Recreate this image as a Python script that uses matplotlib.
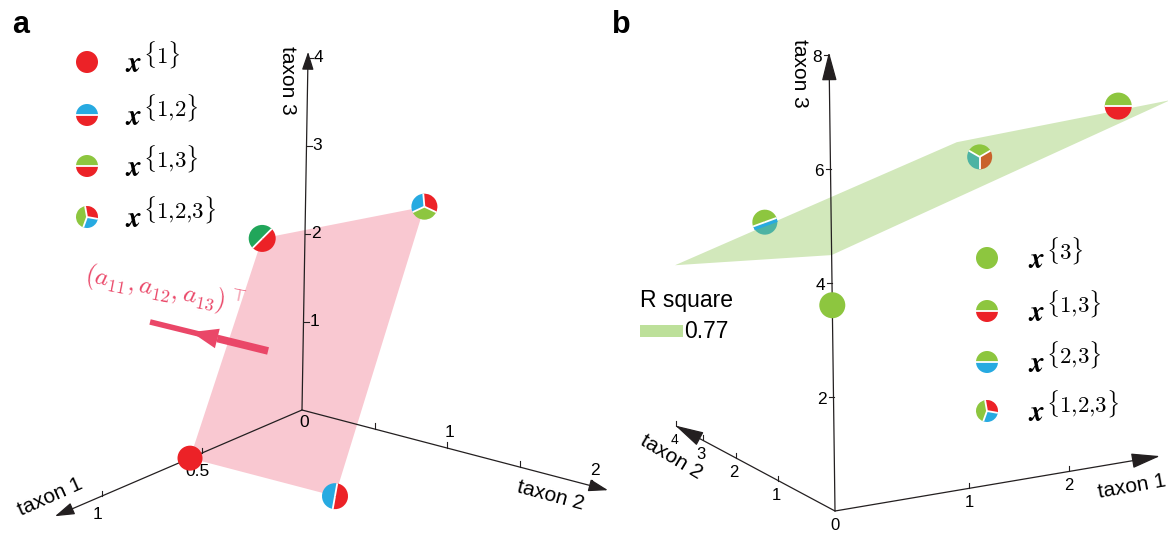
import numpy as np
import matplotlib
matplotlib.use('Agg')
import matplotlib.pyplot as plt
from matplotlib.patches import Wedge, Polygon, Rectangle, FancyArrowPatch, Circle

plt.rcParams['font.family'] = ['Liberation Sans', 'DejaVu Sans']
plt.rcParams['mathtext.fontset'] = 'cm'

# Colours
RED = '#ec2227'
BLUE = '#27aae1'
GREEN = '#8dc63f'
DKGREEN = '#21a65a'
TEAL = '#4db3a3'
ORANGE = '#c9622b'
AXIS = '#231f20'
PINK_PLANE = '#f9c8d1'
GREEN_PLANE = '#d2e8bb'
PINK = '#ea4768'

# ---------------- data (taxon coordinates) ----------------
# panel a : communities and the plane through them
a_labels = [r'\{1\}', r'\{1{,}2\}', r'\{1{,}3\}', r'\{1{,}2{,}3\}']
a_t1 = [0.56, 0.56, 0.56, 0.56]
a_t2 = [0.0, 1.0, 0.47, 1.58]
a_t3 = [0.0, 0.0, 2.7, 3.54]
a_plane_order = [0, 1, 3, 2]
a_normal_tail = [0.176, 0.0, 0.843]
a_normal_tip = [0.773, 0.0, 1.756]

a_ticks1 = [0.5, 1]
a_ticklab1 = ['0.5', '1']
a_ticks2 = [0.5, 1, 1.5, 2]
a_ticklab2 = ['', '1', '', '2']
a_ticks3 = [1, 2, 3, 4]
a_axis_end = [1.235, 2.11, 4.07]

# panel b
b_labels = [r'\{3\}', r'\{1{,}3\}', r'\{2{,}3\}', r'\{1{,}2{,}3\}']
b_t1 = [0.0, 2.67, 0.0, 1.93]
b_t2 = [0.0, 0.0, 1.21, 1.5]
b_t3 = [3.61, 6.25, 4.44, 4.79]
b_plane_t1 = [0.0, 0.0, 3.43, 2.60]
b_plane_t2 = [3.97, 0.0, 0.0, 3.97]
b_plane_t3 = [2.83, 4.49, 6.2, 4.15]
r_square = 0.77

b_ticks1 = [1, 2]
b_ticks2 = [1, 2, 3, 4]
b_ticks3 = [2, 4, 6, 8]
b_axis_end = [3.2, 4.05, 8.05]

# ---------------- projections (pixel space) ----------------
OA = np.array([302.0, 410.0])
EA = np.array([[-200.0, 86.0], [145.0, 38.0], [1.5, -88.0]])


def proj_a(t1, t2, t3):
    return OA + t1 * EA[0] + t2 * EA[1] + t3 * EA[2]


OB = np.array([835.0, 511.0])
U1 = np.array([1.0, -0.169])
U2 = np.array([-1.0, -0.535])
E3 = np.array([-0.75, -57.0])


def persp(t, a, d=0.17):
    return a * t / (1 + d * t)


def proj_b(t1, t2, t3):
    return OB + persp(t1, 156.8) * U1 + persp(t2, 66.6) * U2 + t3 * E3


def pie(ax, xy, r, colors, bounds, band=None, z=6):
    cx, cy = xy
    if len(colors) == 1:
        ax.add_patch(Circle((cx, cy), r, facecolor=colors[0], edgecolor='none', zorder=z))
        return
    for c, b0, b1 in zip(colors, bounds[:-1], bounds[1:]):
        ax.add_patch(Wedge((cx, cy), r, -b1, -b0, facecolor=c, edgecolor='none', zorder=z))
    if band is not None:
        ang = np.deg2rad(bounds[0])
        d = np.array([np.cos(ang), -np.sin(ang)])
        n = np.array([np.sin(ang), np.cos(ang)])
        off = 2.6
        h = np.sqrt(r ** 2 - off ** 2)
        p = np.array([cx, cy]) + off * n
        ax.plot([p[0] - h * d[0], p[0] + h * d[0]], [p[1] - h * d[1], p[1] + h * d[1]],
                color=band, lw=2.2, solid_capstyle='butt', zorder=z + 0.5)
    for b in bounds[:-1]:
        ang = np.deg2rad(b)
        ax.plot([cx, cx + r * np.cos(ang)], [cy, cy - r * np.sin(ang)],
                color='white', lw=1.3, solid_capstyle='butt', zorder=z + 1)


def axis_arrow(ax, p0, p1, hl, hw):
    ax.add_patch(FancyArrowPatch(p0, p1, arrowstyle=f'-|>,head_length={hl},head_width={hw}',
                                 mutation_scale=10, lw=0.9, color=AXIS, shrinkA=0, shrinkB=0,
                                 zorder=3))


def legend_label(ax, x, y, sup):
    ax.text(x, y + 10, r'$\mathbfit{x}$', ha='left', va='baseline', fontsize=21)
    ax.text(x + 18, y + 1, '$' + sup + '$', ha='left', va='baseline', fontsize=16.5)


fig = plt.figure(figsize=(11.68, 5.35), dpi=100)
ax = fig.add_axes([0, 0, 1, 1])
ax.set_xlim(0, 1168)
ax.set_ylim(535, 0)
ax.set_aspect('equal')
ax.axis('off')

# ======================= panel a =======================
pa = [proj_a(a, b, c) for a, b, c in zip(a_t1, a_t2, a_t3)]
ax.add_patch(Polygon([pa[i] for i in a_plane_order], closed=True, facecolor=PINK_PLANE,
                     edgecolor='none', zorder=1))

o = proj_a(0, 0, 0)
axis_arrow(ax, o, proj_a(a_axis_end[0], 0, 0), 1.2, 0.38)
axis_arrow(ax, o, proj_a(0, a_axis_end[1], 0), 1.2, 0.38)
axis_arrow(ax, o, proj_a(0, 0, a_axis_end[2]), 1.1, 0.36)

for t, lab in zip(a_ticks1, a_ticklab1):
    p = proj_a(t, 0, 0)
    ax.plot([p[0], p[0]], [p[1] - 5, p[1]], color=AXIS, lw=0.8, zorder=3)
    ax.text(p[0] - 4, p[1] + 11, lab, ha='center', va='top', fontsize=12.5, zorder=4)
for t, lab in zip(a_ticks2, a_ticklab2):
    p = proj_a(0, t, 0)
    ax.plot([p[0], p[0]], [p[1] - 6, p[1]], color=AXIS, lw=0.8, zorder=3)
    ax.text(p[0] + 3, p[1] - 8, lab, ha='center', va='bottom', fontsize=12.5, zorder=4)
for t in a_ticks3:
    p = proj_a(0, 0, t)
    ax.plot([p[0], p[0] + 5], [p[1], p[1]], color=AXIS, lw=0.8, zorder=3)
    ax.text(p[0] + 6, p[1], str(t), ha='left', va='center', fontsize=12.5, zorder=4)
ax.text(o[0] + 2, o[1] + 5, '0', ha='center', va='top', fontsize=12.5, zorder=4)

ax.text(50, 497, 'taxon 1', rotation=24, ha='center', va='center', fontsize=15)
ax.text(551, 496, 'taxon 2', rotation=-15, ha='center', va='center', fontsize=15)
ax.text(288, 80, 'taxon 3', rotation=-90, ha='center', va='center', fontsize=15)

# normal vector of the plane
tail = proj_a(*a_normal_tail)
tip = proj_a(*a_normal_tip)
dvec = (tip - tail) / np.linalg.norm(tip - tail)
nvec = np.array([-dvec[1], dvec[0]])
L = np.linalg.norm(tip - tail)
head_tip = tail + 0.65 * L * dvec
head_base = tail + 0.43 * L * dvec
ax.plot([tail[0], head_base[0]], [tail[1], head_base[1]], color=PINK, lw=5.5,
        solid_capstyle='butt', zorder=5)
ax.plot([head_base[0], tip[0]], [head_base[1], tip[1]], color=PINK, lw=4,
        solid_capstyle='butt', zorder=5)
ax.add_patch(Polygon([head_tip, head_base + 10 * nvec, head_base - 10 * nvec], closed=True,
                     facecolor=PINK, edgecolor='none', zorder=5))
ax.text(165, 290, r'$(a_{11},a_{12},a_{13})^{\top}$', rotation=-11, color=PINK,
        ha='center', va='center', fontsize=18.5)

a_pies = [([RED], [0, 360]),
          ([BLUE, RED], [80, 260, 440]),
          ([DKGREEN, RED], [45, 225, 405]),
          ([BLUE, GREEN, RED], [95, 205, 335, 455])]
a_r = [12.5, 13, 13.5, 13]
for p, (cols, bnd), r in zip(pa, a_pies, a_r):
    pie(ax, p, r, cols, bnd)

a_leg = [([RED], [0, 360]),
         ([BLUE, RED], [0, 180, 360]),
         ([GREEN, RED], [0, 180, 360]),
         ([RED, GREEN, BLUE], [-10, 100, 250, 350])]
leg_y_a = [62, 115, 166, 217]
for y, (cols, bnd), lab in zip(leg_y_a, a_leg, a_labels):
    pie(ax, (87, y), 11, cols, bnd)
    legend_label(ax, 125, y, lab)

ax.text(12, 33, 'a', fontsize=22, fontweight='bold', ha='left', va='baseline')

# ======================= panel b =======================
corners = [proj_b(a, b, c) for a, b, c in zip(b_plane_t1, b_plane_t2, b_plane_t3)]
ax.add_patch(Polygon(corners, closed=True, facecolor=GREEN_PLANE, edgecolor='none', zorder=1))

o = proj_b(0, 0, 0)
axis_arrow(ax, o, proj_b(b_axis_end[0], 0, 0), 1.8, 0.47)
axis_arrow(ax, o, proj_b(0, b_axis_end[1], 0), 1.8, 0.47)
axis_arrow(ax, o, proj_b(0, 0, b_axis_end[2]), 1.8, 0.47)

for t in b_ticks1:
    p = proj_b(t, 0, 0)
    ax.plot([p[0], p[0]], [p[1] - 5, p[1]], color=AXIS, lw=0.8, zorder=3)
    ax.text(p[0], p[1] + 7, str(t), ha='center', va='top', fontsize=12, zorder=4)
for t in b_ticks2:
    p = proj_b(0, t, 0)
    ax.plot([p[0], p[0]], [p[1] - 5, p[1]], color=AXIS, lw=0.8, zorder=3)
    ax.text(p[0] - 2, p[1] + 7, str(t), ha='center', va='top', fontsize=12 if t < 4 else 10,
            zorder=4)
for t in b_ticks3:
    p = proj_b(0, 0, t)
    ax.plot([p[0] - 5, p[0]], [p[1], p[1]], color=AXIS, lw=0.8, zorder=3)
    ax.text(p[0] - 7, p[1] + 2, str(t), ha='right', va='center', fontsize=12.5, zorder=4)
ax.text(o[0], o[1] + 7, '0', ha='center', va='top', fontsize=12, zorder=4)

ax.text(1132, 487, 'taxon 1', rotation=10, ha='center', va='center', fontsize=15)
ax.text(671, 457, 'taxon 2', rotation=-31, ha='center', va='center', fontsize=15)
ax.text(800, 73, 'taxon 3', rotation=-90, ha='center', va='center', fontsize=15)

pb = [proj_b(a, b, c) for a, b, c in zip(b_t1, b_t2, b_t3)]
b_pies = [([GREEN], [0, 360], None),
          ([GREEN, RED], [0, 180, 360], None),
          ([GREEN, TEAL], [20, 200, 380], BLUE),
          ([GREEN, TEAL, ORANGE], [30, 150, 270, 390], None)]
b_r = [13, 13.5, 12.5, 12.5]
for p, (cols, bnd, band), r in zip(pb, b_pies, b_r):
    pie(ax, p, r, cols, bnd, band=band)

b_leg = [([GREEN], [0, 360]),
         ([GREEN, RED], [0, 180, 360]),
         ([GREEN, BLUE], [0, 180, 360]),
         ([RED, GREEN, BLUE], [-10, 100, 250, 350])]
leg_y_b = [258, 311, 362, 411]
for y, (cols, bnd), lab in zip(leg_y_b, b_leg, b_labels):
    pie(ax, (987, y), 11, cols, bnd)
    legend_label(ax, 1028, y, lab)

ax.text(640, 300, 'R square', ha='left', va='center', fontsize=16.5)
ax.add_patch(Rectangle((640, 325), 43, 12, facecolor='#bde09a', edgecolor='none'))
ax.text(684, 331, f'{r_square:.2f}', ha='left', va='center', fontsize=16.5)

ax.text(612, 33, 'b', fontsize=22, fontweight='bold', ha='left', va='baseline')

fig.savefig('out.png', dpi=100)
